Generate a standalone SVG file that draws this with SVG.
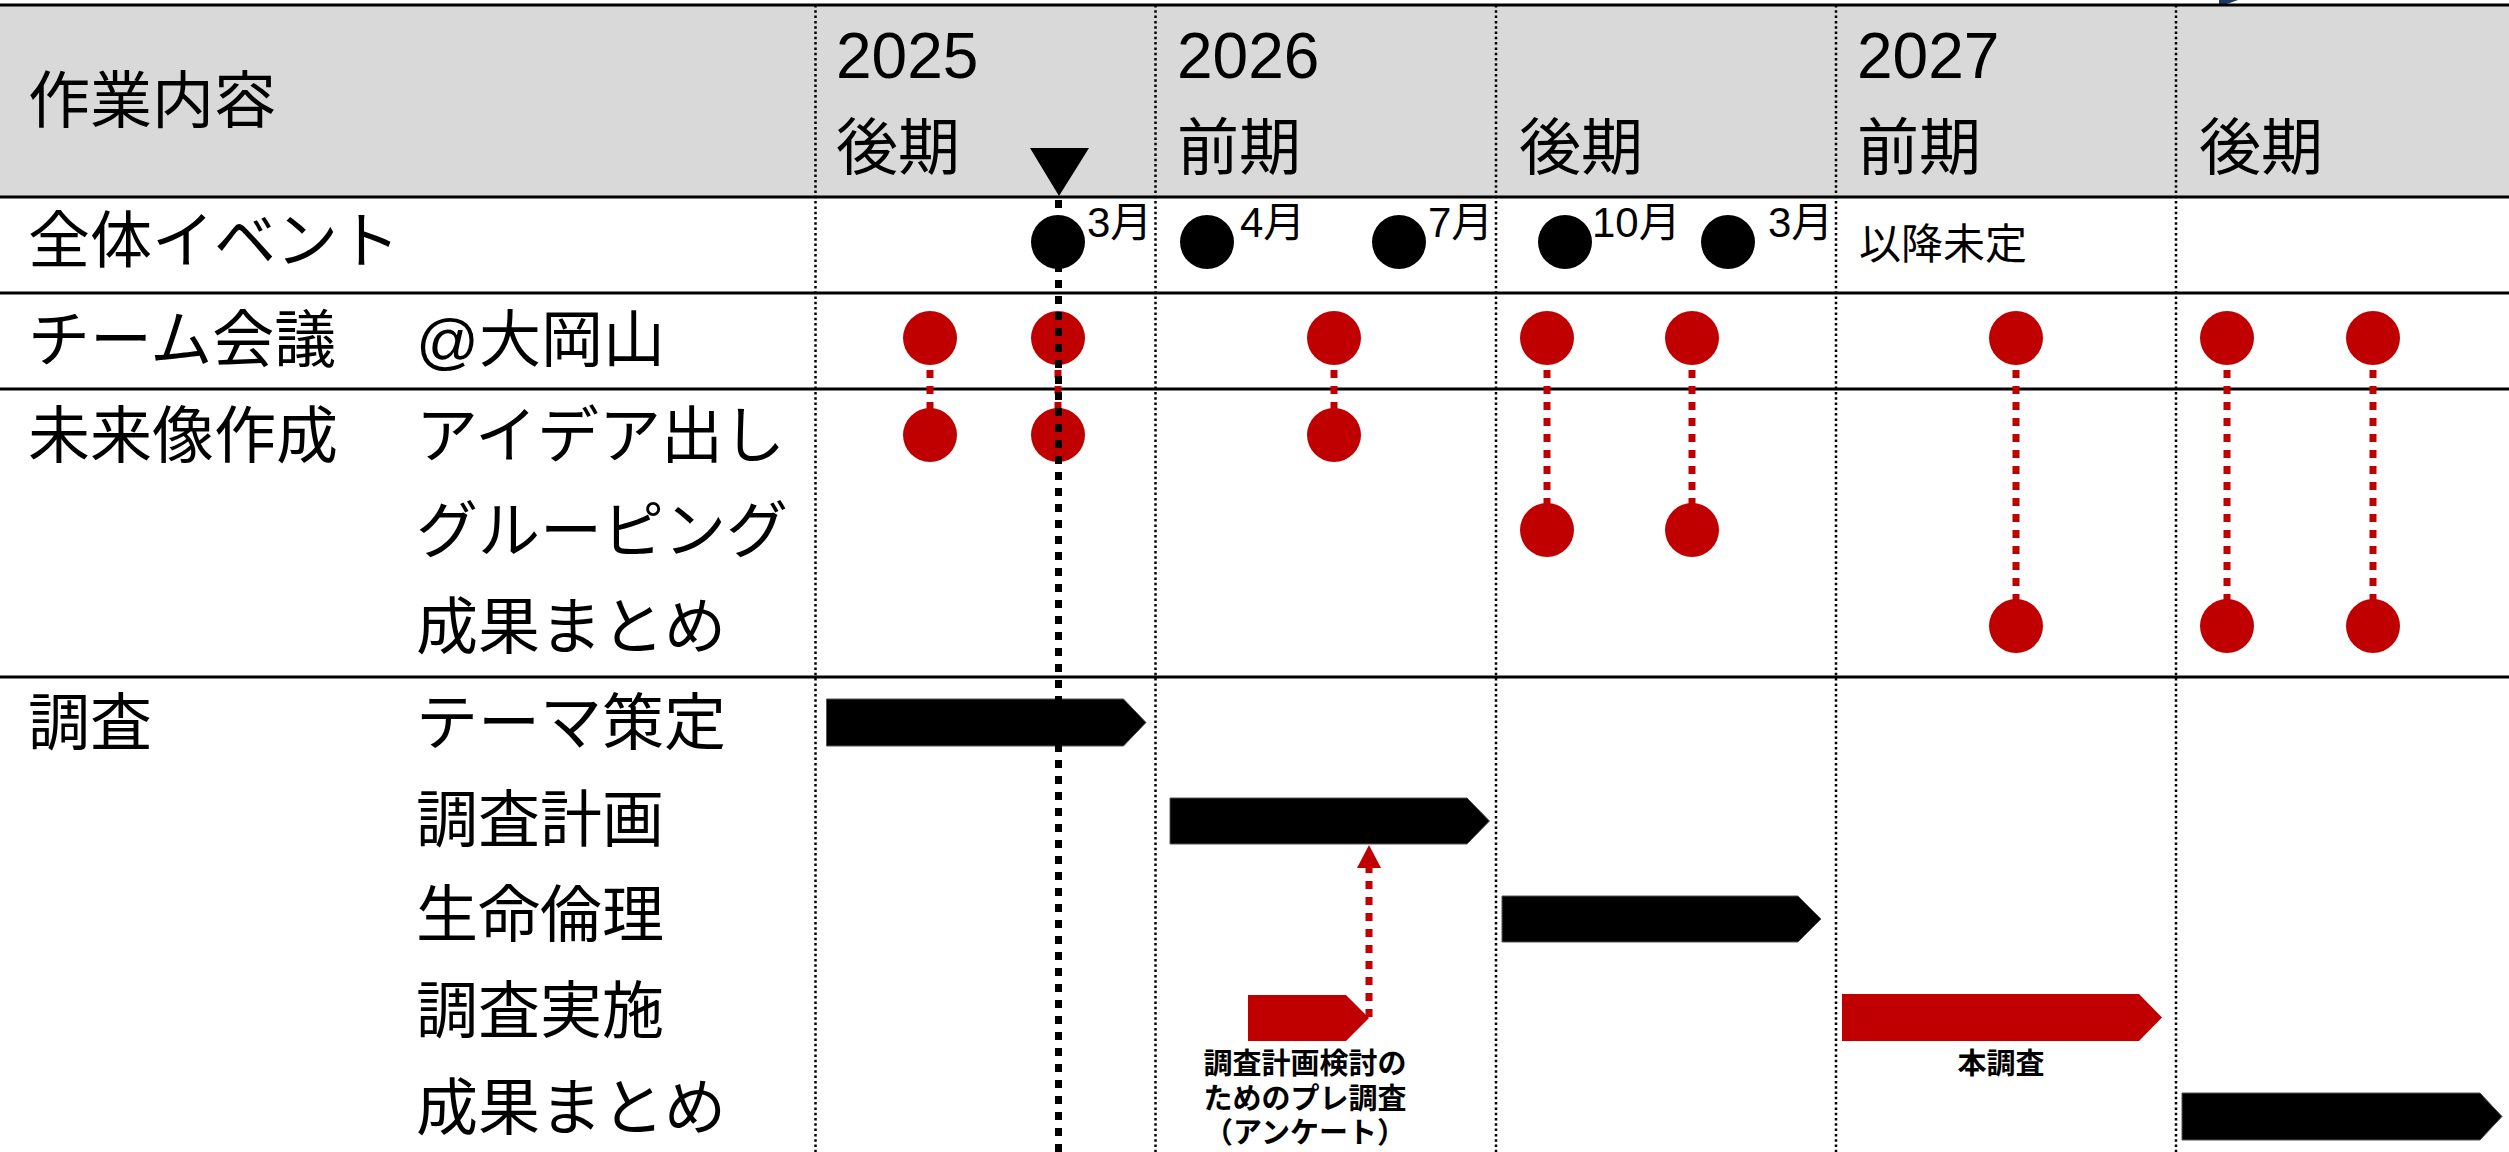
<svg xmlns="http://www.w3.org/2000/svg" width="2509" height="1152" viewBox="0 0 2509 1152">
<style>
.t{font-family:"Liberation Sans","Noto Sans CJK JP",sans-serif;fill:#000;font-size:62px}
.yr{font-size:64px}
.mon{font-size:42px}
.note{font-size:29px;font-weight:bold;text-anchor:middle}
.rdot{fill:#C00000}
.kdot{fill:#000}
.rlink{stroke:#C00000;stroke-width:7;stroke-dasharray:8 8;fill:none}
.hline{stroke:#000;stroke-width:3}
.vdiv{stroke:#000;stroke-width:2.5;stroke-dasharray:2.5 2.8}
.barK{fill:#000;stroke:#555;stroke-width:1}
.barR{fill:#C00000}
</style>
<defs>
<marker id="rarrow" viewBox="0 0 23 24" refX="0" refY="12" markerWidth="23" markerHeight="24" markerUnits="userSpaceOnUse" orient="auto">
<path d="M0,0 L23,12 L0,24 z" fill="#C00000"/>
</marker>
</defs>
<rect x="0" y="0" width="2509" height="1152" fill="#fff"/>
<rect x="0" y="5" width="2509" height="192" fill="#d9d9d9"/>
<polygon points="2219,0 2238,0 2224,5 2219,5" fill="#203864"/>

<g id="grid">
<line class="vdiv" x1="815.5" y1="5" x2="815.5" y2="1152"/>
<line class="vdiv" x1="1155.5" y1="5" x2="1155.5" y2="1152"/>
<line class="vdiv" x1="1496" y1="5" x2="1496" y2="1152"/>
<line class="vdiv" x1="1836" y1="5" x2="1836" y2="1152"/>
<line class="vdiv" x1="2176" y1="5" x2="2176" y2="1152"/>
<line class="hline" x1="0" y1="5" x2="2509" y2="5"/>
<line class="hline" x1="0" y1="197" x2="2509" y2="197"/>
<line class="hline" x1="0" y1="293" x2="2509" y2="293"/>
<line class="hline" x1="0" y1="389" x2="2509" y2="389"/>
<line class="hline" x1="0" y1="677" x2="2509" y2="677"/>
</g>

<g id="header">
<text class="t" x="28" y="123">作業内容</text>
<text class="t yr" x="836" y="78">2025</text>
<text class="t" x="836" y="170">後期</text>
<text class="t yr" x="1177" y="78">2026</text>
<text class="t" x="1177" y="170">前期</text>
<text class="t" x="1519" y="170">後期</text>
<text class="t yr" x="1857" y="78">2027</text>
<text class="t" x="1857" y="170">前期</text>
<text class="t" x="2199" y="170">後期</text>
</g>

<g id="row-labels">
<text class="t" x="28" y="263">全体イベント</text>
<text class="t" x="28" y="362">チーム会議</text>
<text class="t" x="416" y="362">@大岡山</text>
<text class="t" x="28" y="458">未来像作成</text>
<text class="t" x="416" y="458">アイデア出し</text>
<text class="t" x="416" y="553">グルーピング</text>
<text class="t" x="416" y="649">成果まとめ</text>
<text class="t" x="28" y="745">調査</text>
<text class="t" x="416" y="745">テーマ策定</text>
<text class="t" x="416" y="842">調査計画</text>
<text class="t" x="416" y="937">生命倫理</text>
<text class="t" x="416" y="1033">調査実施</text>
<text class="t" x="416" y="1130">成果まとめ</text>
</g>

<g id="connectors">
<line class="rlink" x1="930" y1="338" x2="930" y2="435"/>
<line class="rlink" x1="1058" y1="338" x2="1058" y2="435"/>
<line class="rlink" x1="1334" y1="338" x2="1334" y2="435"/>
<line class="rlink" x1="1547" y1="338" x2="1547" y2="530"/>
<line class="rlink" x1="1692" y1="338" x2="1692" y2="530"/>
<line class="rlink" x1="2016" y1="338" x2="2016" y2="626"/>
<line class="rlink" x1="2227" y1="338" x2="2227" y2="626"/>
<line class="rlink" x1="2373" y1="338" x2="2373" y2="626"/>
<line class="rlink" x1="1369" y1="1017" x2="1369" y2="868" marker-end="url(#rarrow)"/>
</g>

<g id="events">
<circle class="kdot" cx="1058" cy="242" r="27"/>
<text class="t mon" x="1087" y="237">3月</text>
<circle class="kdot" cx="1207" cy="242" r="27"/>
<text class="t mon" x="1240" y="237">4月</text>
<circle class="kdot" cx="1399" cy="242" r="27"/>
<text class="t mon" x="1428" y="237">7月</text>
<circle class="kdot" cx="1565" cy="242" r="27"/>
<text class="t mon" x="1592" y="237">10月</text>
<circle class="kdot" cx="1728" cy="242" r="27"/>
<text class="t mon" x="1768" y="237">3月</text>
<text class="t mon" x="1859" y="259">以降未定</text>
</g>

<g id="meetings">
<circle class="rdot" cx="930" cy="338" r="27"/>
<circle class="rdot" cx="1058" cy="338" r="27"/>
<circle class="rdot" cx="1334" cy="338" r="27"/>
<circle class="rdot" cx="1547" cy="338" r="27"/>
<circle class="rdot" cx="1692" cy="338" r="27"/>
<circle class="rdot" cx="2016" cy="338" r="27"/>
<circle class="rdot" cx="2227" cy="338" r="27"/>
<circle class="rdot" cx="2373" cy="338" r="27"/>
</g>
<g id="ideas">
<circle class="rdot" cx="930" cy="435" r="27"/>
<circle class="rdot" cx="1058" cy="435" r="27"/>
<circle class="rdot" cx="1334" cy="435" r="27"/>
</g>
<g id="grouping">
<circle class="rdot" cx="1547" cy="530" r="27"/>
<circle class="rdot" cx="1692" cy="530" r="27"/>
</g>
<g id="vision-summary">
<circle class="rdot" cx="2016" cy="626" r="27"/>
<circle class="rdot" cx="2227" cy="626" r="27"/>
<circle class="rdot" cx="2373" cy="626" r="27"/>
</g>

<g id="bar-theme"><polygon class="barK" points="826.5,699 1123.5,699 1146,722.5 1123.5,746 826.5,746"/></g>
<g id="bar-plan"><polygon class="barK" points="1170,798 1467,798 1489.5,821 1467,844 1170,844"/></g>
<g id="bar-ethics"><polygon class="barK" points="1502,896 1798,896 1821,919 1798,942 1502,942"/></g>
<g id="bar-pre"><polygon class="barR" points="1248,995 1346,995 1369,1018 1346,1041 1248,1041"/>
<text class="t note" x="1305" y="1074">調査計画検討の</text>
<text class="t note" x="1305" y="1109">ためのプレ調査</text>
<text class="t note" x="1305" y="1143">（アンケート）</text>
</g>
<g id="bar-main"><polygon class="barR" points="1842,994 2139,994 2162,1017.5 2139,1041 1842,1041"/>
<text class="t note" x="2001" y="1074">本調査</text>
</g>
<g id="bar-summary"><polygon class="barK" points="2182,1093 2480,1093 2502,1116.5 2480,1140 2182,1140"/></g>

<g id="today">
<polygon points="1030,148 1089,148 1059,196" fill="#000"/>
<line x1="1058.5" y1="200" x2="1058.5" y2="1152" stroke="#000" stroke-width="7" stroke-dasharray="8 8"/>
</g>
</svg>
